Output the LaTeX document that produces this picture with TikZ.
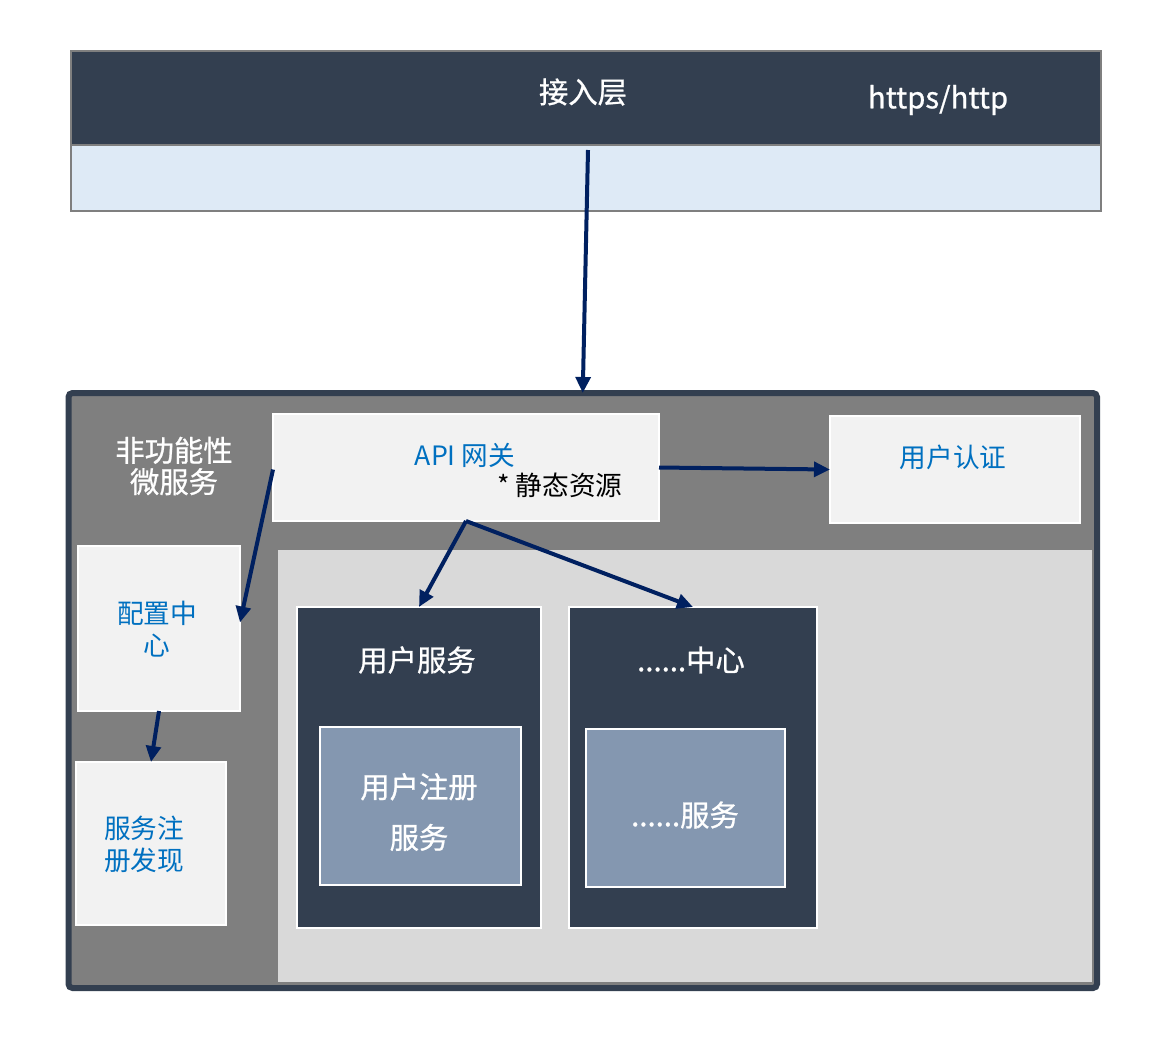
\documentclass[tikz,border=0pt]{standalone}
\usepackage{fontspec}
\setmainfont{Noto Sans CJK SC}
\newfontfamily\medfont{Noto Sans CJK SC}[FakeBold=0.8]
\usetikzlibrary{fit,arrows.meta,calc}
\definecolor{darkslate}{HTML}{333F50}
\definecolor{navy}{HTML}{002060}
\definecolor{bluetext}{HTML}{0070C0}
\definecolor{paleg}{HTML}{F2F2F2}
\definecolor{midgray}{HTML}{7F7F7F}
\definecolor{lightgray}{HTML}{D9D9D9}
\definecolor{slateblue}{HTML}{8497B0}
\definecolor{paleblue}{HTML}{DEEAF6}
\begin{document}
\begin{tikzpicture}[x=0.75pt,y=-0.75pt,
  region/.style={inner sep=0pt, outer sep=0pt},
  lightbox/.style={region, fill=paleg, draw=white, line width=1.2pt},
  darkbox/.style={region, fill=darkslate, draw=white, line width=1.2pt},
  innerbox/.style={region, fill=slateblue, draw=white, line width=1.2pt},
  txt/.style={inner sep=0pt, font=\fontsize{20}{24}\selectfont, align=center},
  wtxt/.style={inner sep=0pt, text=white, font=\medfont\fontsize{22}{26}\selectfont, align=center},
  conn/.style={navy, line width=3pt, -{Triangle[length=12pt,width=11pt]}}
]
\useasboundingbox (0,0) rectangle (1164,1040);

% access layer
\node[region, fill=paleblue, fit={(71,145) (1101,211)}] (band) {};
\node[region, fill=darkslate, fit={(71,51) (1101,145)}] (access) {};
\draw[midgray, line width=1.2pt] (access.north west) rectangle (band.south east);
\draw[midgray, line width=1.2pt] (access.south west) -- (access.south east);
\draw[midgray, line width=2.2pt] (band.south west) -- (band.south east);
\node[wtxt] (accesslbl) at (583,92) {接入层};
\node[wtxt] (proto) at (938,100) {https/http};

% outer container
\node[region, fill=midgray, fit={(68.5,393) (1097,988)}] (outer) {};
\node[region, fill=lightgray, fit={(278,550) (1092,982)}] (inner) {};
\draw[darkslate, line width=4.5pt, rounded corners=3pt] (outer.north west) rectangle (outer.south east);

\node[wtxt, font=\medfont\fontsize{22}{23.5}\selectfont] (nonfunc) at (174,466) {非功能性\\微服务};

% boxes
\node[lightbox, fit={(273,414) (659,521)}] (api) {};
\node[txt, text=bluetext] (apilbl) at (465,455) {API 网关};
\node[txt, text=black] (staticlbl) at (560,485) {* 静态资源};

\node[lightbox, fit={(830,416) (1080,523)}] (auth) {};
\node[txt, text=bluetext] (authlbl) at (953,457) {用户认证};

\node[lightbox, fit={(78,546) (240,711)}] (cfg) {};
\node[txt, text=bluetext] (cfglbl) at (157,629) {配置中\\心};

\node[lightbox, fit={(76,762) (226,925)}] (reg) {};
\node[txt, text=bluetext] (reglbl) at (144,844) {服务注\\册发现};

\node[darkbox, fit={(297,607) (541,928)}] (usvc) {};
\node[wtxt] (usvclbl) at (417,660) {用户服务};
\node[innerbox, fit={(320,727) (521,885)}] (ureg) {};
\node[wtxt, font=\medfont\fontsize{22}{38}\selectfont] (ureglbl) at (419,812) {用户注册\\服务};

\node[darkbox, fit={(569,607) (817,928)}] (csvc) {};
\node[wtxt] (csvclbl) at (691,660) {......中心};
\node[innerbox, fit={(586,729) (785,887)}] (cinner) {};
\node[wtxt] (cinnerlbl) at (685,815) {......服务};

% connectors
\draw[conn] ($(band.north)+(2,5)$) -- (outer.north);
\draw[conn] ($(api.west)+(0,2)$) -- ($(cfg.east)+(0,-6)$);
\draw[conn] (cfg.south) -- (reg.north);
\draw[conn] (api.east) -- (auth.west);
\draw[conn] (api.south) -- (usvc.north);
\draw[conn] (api.south) -- (csvc.north);
\end{tikzpicture}
\end{document}
